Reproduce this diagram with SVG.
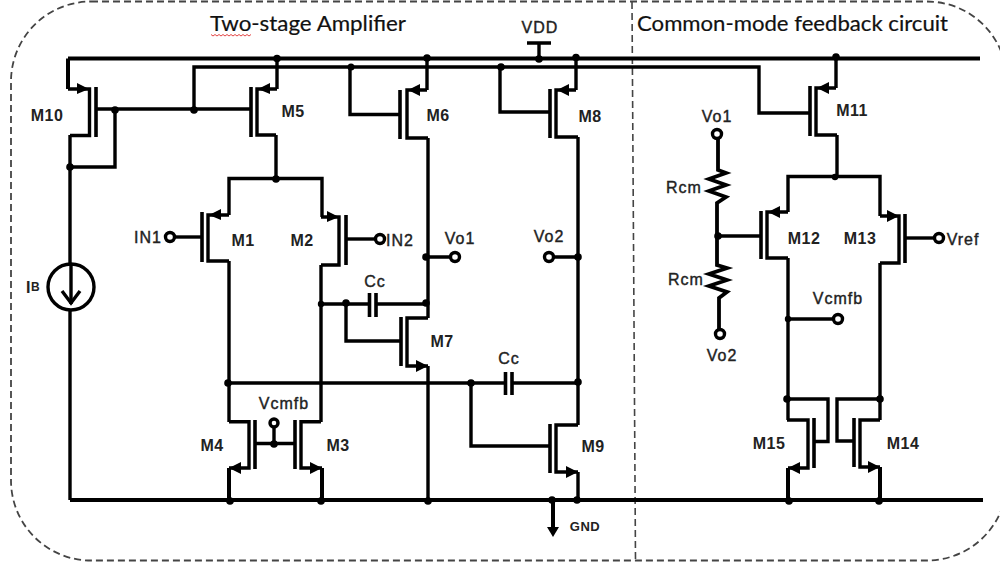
<svg xmlns="http://www.w3.org/2000/svg" width="1000" height="565" viewBox="0 0 1000 565">
<style>
.w{fill:none;stroke:#000;stroke-width:3.400;stroke-linejoin:miter}
.r{fill:none;stroke:#000;stroke-width:4}
.b{fill:none;stroke:#000;stroke-width:3.600}
.a{fill:#000;stroke:none}
.d{fill:#000;stroke:none}
.t{fill:#fff;stroke:#000;stroke-width:3.400}
.l{font-family:"Liberation Sans",Arial,sans-serif;font-weight:bold;font-size:16px;letter-spacing:.5px;fill:#222;text-anchor:middle;dominant-baseline:central}
.n{font-family:"Liberation Sans",Arial,sans-serif;font-size:16px;letter-spacing:1px;fill:#222;text-anchor:middle;dominant-baseline:central;stroke:#222;stroke-width:.4px}
.h{font-family:Lato,"Open Sans",sans-serif;font-size:21px;fill:#111;stroke:#111;stroke-width:.2px}
</style>
<rect width="1000" height="565" fill="#fff"/>
<g id="boundary">
<rect x="11" y="1.500" width="996" height="559" rx="80" ry="80" fill="none" stroke="#444" stroke-width="1.800" stroke-dasharray="7 4"/>
<path d="M632 2L635.500 560" fill="none" stroke="#444" stroke-width="1.600" stroke-dasharray="7 4"/>
</g>
<g id="titles">
<text class="h" x="210" y="31" textLength="196" lengthAdjust="spacingAndGlyphs">Two-stage Amplifier</text>
<text class="h" x="637" y="31" textLength="311" lengthAdjust="spacingAndGlyphs">Common-mode feedback circuit</text>
<path d="M211 34.500l2 1.500 2-1.500 2 1.500 2-1.500 2 1.500 2-1.500 2 1.500 2-1.500 2 1.500 2-1.500 2 1.500 2-1.500 2 1.500 2-1.500 2 1.500 2-1.500 2 1.500 2-1.500 2 1.500 2-1.500" fill="none" stroke="#e03030" stroke-width=".9"/>
</g>
<g id="connectors">
<path class="r" d="M68 58.500H980"/>
<path class="w" d="M194 110V67H759V113H810"/>
<path class="r" d="M70 500H983"/>
<path class="w" d="M96 109H251"/>
<path class="w" d="M70 135V264M70 310V500"/>
<path class="w" d="M70 167H115V109"/>
<path class="r" d="M68 58.500V89"/>
<path class="w" d="M277 58V89M276 135V179"/>
<path class="w" d="M229 215V178.500H322V217"/>
<path class="w" d="M229 261V422M321 265V422"/>
<path class="w" d="M229 383H505M512 383H578"/>
<path class="w" d="M321 304H369M376 304H427"/>
<path class="w" d="M346 304V341H401"/>
<path class="w" d="M427 58V90M428 138V318M428 366V500"/>
<path class="w" d="M400 114.500H350V67"/>
<path class="w" d="M550 112H500V67"/>
<path class="w" d="M576 58V90M578 137V425M578 472V500"/>
<path class="w" d="M471 383V446H550"/>
<path class="w" d="M427 257H450M544 257H578"/>
<path class="r" d="M229 468V500M322 468V500"/>
<path class="w" d="M254 443.500H296M274 444V428"/>
<path class="w" d="M539 58V43M527 43H551"/>
<path class="w" d="M836 58V88M837 135V177"/>
<path class="w" d="M788 212V176.500H880V216"/>
<path class="w" d="M788 258V420M880 263V420"/>
<path class="w" d="M788 319H833"/>
<path class="w" d="M787 399H828V441.500H813M880 399H837V441H854"/>
<path class="r" d="M788 468V500M880 467V500"/>
<path class="w" d="M718 139V170L726 173 709 179 726 185 709 191 726 197 717 203V265L727 268 709 274 727 280 709 286 727 292 719 298V329" style="stroke-width:3.800"/>
<path class="w" d="M718 236H761"/>
<path class="r" d="M553 500V528"/>
<polygon class="a" points="547,527 559,527 553,537"/>
<g class="dots">
<circle class="d" cx="277" cy="58.500" r="3.800"/><circle class="d" cx="427" cy="58" r="3.800"/><circle class="d" cx="539" cy="59" r="3.800"/><circle class="d" cx="576" cy="57.500" r="3.800"/><circle class="d" cx="836" cy="57" r="3.800"/>
<circle class="d" cx="351" cy="67" r="3.500"/><circle class="d" cx="501" cy="67" r="3.800"/>
<circle class="d" cx="115" cy="110" r="3.800"/><circle class="d" cx="194" cy="110" r="3.800"/><circle class="d" cx="70" cy="167" r="3.800"/>
<circle class="d" cx="276" cy="179" r="3.800"/><circle class="d" cx="835" cy="177" r="3.200"/>
<circle class="d" cx="321" cy="304" r="3.200"/><circle class="d" cx="346" cy="303" r="3.800"/><circle class="d" cx="426" cy="303" r="3.800"/><circle class="d" cx="426" cy="257" r="3.800"/><circle class="d" cx="578" cy="257" r="3.800"/>
<circle class="d" cx="228" cy="383" r="3.800"/><circle class="d" cx="471" cy="383" r="3.800"/><circle class="d" cx="578" cy="382" r="3.800"/>
<circle class="d" cx="274" cy="444" r="3.800"/>
<circle class="d" cx="230" cy="501" r="3.800"/><circle class="d" cx="321" cy="501" r="3.800"/><circle class="d" cx="428" cy="501" r="3.800"/><circle class="d" cx="552" cy="500" r="3.800"/><circle class="d" cx="577" cy="500" r="3.800"/><circle class="d" cx="789" cy="501" r="3.800"/><circle class="d" cx="879" cy="501" r="3.800"/>
<circle class="d" cx="718" cy="236" r="3.800"/><circle class="d" cx="788" cy="319" r="3.200"/><circle class="d" cx="787" cy="399" r="3.800"/><circle class="d" cx="880" cy="399" r="3.800"/>
</g>
</g>
<g id="M10"><path class="w" d="M68 89H89.500V135.500H70"/><path class="b" d="M96 87V137"/><polygon class="a" points="77,83 89,89 77,94"/><text class="l" x="47" y="115">M10</text></g>
<g id="M5"><path class="w" d="M277 89H257V135H276"/><path class="b" d="M251 87V137"/><polygon class="a" points="258,89 270,83 270,94"/><text class="l" x="293" y="111">M5</text></g>
<g id="M1"><path class="w" d="M229 215H208V261H229"/><path class="b" d="M202 212V262"/><polygon class="a" points="209,215 221,209 221,220"/><text class="l" x="243" y="240">M1</text></g>
<g id="M2"><path class="w" d="M321 217H339V265H321"/><path class="b" d="M346 215V265"/><polygon class="a" points="339,217 327,211 327,222"/><text class="l" x="302" y="240">M2</text></g>
<g id="M3"><path class="w" d="M321 421.700H301V468H322"/><path class="b" d="M295 420V469"/><polygon class="a" points="322,468 310,462 310,474"/><text class="l" x="338" y="445">M3</text></g>
<g id="M4"><path class="w" d="M229 421.700H249V468H229"/><path class="b" d="M255 420V469"/><polygon class="a" points="229,468 241,462 241,474"/><text class="l" x="212" y="445">M4</text></g>
<g id="M6"><path class="w" d="M427 90H407V138H428"/><path class="b" d="M400 90V139"/><polygon class="a" points="408,90 420,84 420,96"/><text class="l" x="438" y="115">M6</text></g>
<g id="M7"><path class="w" d="M428 318H407V366H428"/><path class="b" d="M401 317V366"/><polygon class="a" points="428,366 416,360 416,372"/><text class="l" x="442" y="341">M7</text></g>
<g id="M8"><path class="w" d="M576 90H556V137H578"/><path class="b" d="M550 89V138"/><polygon class="a" points="557,90 569,84 569,96"/><text class="l" x="590" y="116">M8</text></g>
<g id="M9"><path class="w" d="M578 425H556V472H578"/><path class="b" d="M550 424V473"/><polygon class="a" points="578,472 566,466 566,478"/><text class="l" x="593" y="446">M9</text></g>
<g id="M11"><path class="w" d="M836 88H816V135H837"/><path class="b" d="M810 86V136"/><polygon class="a" points="817,88 829,82 829,94"/><text class="l" x="852" y="110">M11</text></g>
<g id="M12"><path class="w" d="M788 212H767V258H788"/><path class="b" d="M761 211V259"/><polygon class="a" points="768,212 780,206 780,218"/><text class="l" x="804" y="238">M12</text></g>
<g id="M13"><path class="w" d="M880 216H899V263H880"/><path class="b" d="M905 214V263"/><polygon class="a" points="899,216 887,210 887,222"/><text class="l" x="860" y="238">M13</text></g>
<g id="M14"><path class="w" d="M880 420H860V467H880"/><path class="b" d="M854 418V467"/><polygon class="a" points="880,467 868,461 868,473"/><text class="l" x="903" y="443">M14</text></g>
<g id="M15"><path class="w" d="M787 420H808V468H788"/><path class="b" d="M814 418V468"/><polygon class="a" points="788,468 800,462 800,474"/><text class="l" x="769" y="443">M15</text></g>
<g id="IB"><circle cx="71" cy="287" r="23" fill="none" stroke="#000" stroke-width="3.400"/><path class="w" d="M71 264V304"/><path class="w" d="M62 291L71 303 80 291"/><text class="l" x="33" y="287">I<tspan font-size="12">B</tspan></text></g>
<g id="C1"><path class="b" d="M369.500 293V317M376 293V317"/><text class="n" x="375" y="281">Cc</text></g>
<g id="C2"><path class="b" d="M505.500 372V395M512 372V395"/><text class="n" x="509" y="358">Cc</text></g>
<g id="R1"><text class="n" x="684" y="187">Rcm</text></g>
<g id="R2"><text class="n" x="686" y="279">Rcm</text></g>
<g id="IN1"><line class="w" x1="175" y1="237" x2="202" y2="237"/><circle class="t" cx="170" cy="237" r="4.500"/><text class="n" x="148" y="237">IN1</text></g>
<g id="IN2"><line class="w" x1="346" y1="239" x2="376" y2="239"/><circle class="t" cx="380" cy="239" r="4.500"/><text class="n" x="400" y="240">IN2</text></g>
<g id="Vo1"><circle class="t" cx="455" cy="257" r="4.500"/><text class="n" x="460" y="238">Vo1</text></g>
<g id="Vo2"><circle class="t" cx="549" cy="257" r="4.500"/><text class="n" x="549" y="236">Vo2</text></g>
<g id="Vcmfb1"><circle class="t" cx="274" cy="423" r="4"/><text class="n" x="284" y="403">Vcmfb</text></g>
<g id="Vcmfb2"><circle class="t" cx="838" cy="319" r="4.500"/><text class="n" x="838" y="298">Vcmfb</text></g>
<g id="Vo1r"><circle class="t" cx="717" cy="134" r="4.500"/><text class="n" x="717" y="116">Vo1</text></g>
<g id="Vo2r"><circle class="t" cx="720" cy="334" r="4.500"/><text class="n" x="722" y="355">Vo2</text></g>
<g id="Vref"><line class="w" x1="905" y1="238" x2="935" y2="238"/><circle class="t" cx="939" cy="238" r="4.500"/><text class="n" x="963" y="239">Vref</text></g>
<g id="VDD"><text class="n" x="540" y="27">VDD</text></g>
<g id="GND"><text class="l" x="585" y="526" style="font-size:13px">GND</text></g>
</svg>
